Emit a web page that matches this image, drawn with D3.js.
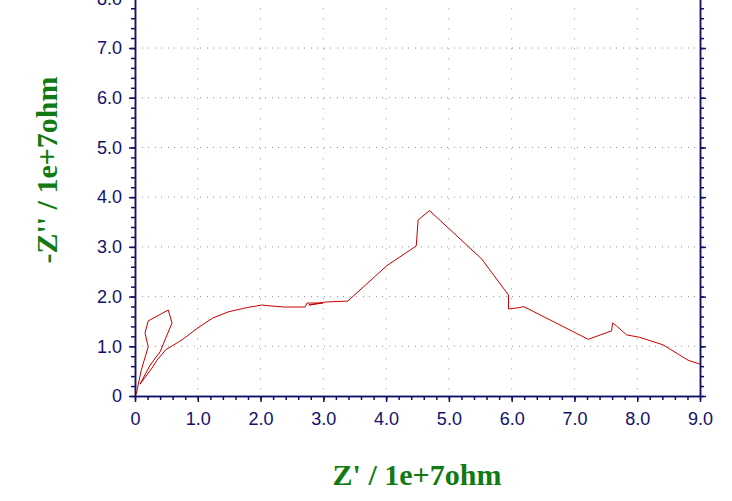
<!DOCTYPE html>
<html>
<head>
<meta charset="utf-8">
<script src="https://cdn.jsdelivr.net/npm/d3@7"></script>
<style>
  html, body { margin: 0; padding: 0; background: #ffffff; }
  svg { display: block; }
</style>
</head>
<body>
<svg id="chart" width="732" height="501"></svg>
<script>
// Z' (real part, 1e7 ohm)
const zReal = [0.02, 0.10, 0.21, 0.16, 0.21, 0.53, 0.59, 0.40, 0.24, 0.08,
  0.27, 0.35, 0.49, 0.75, 1.00, 1.24, 1.48, 1.75, 2.02, 2.18,
  2.37, 2.71, 2.74, 2.99, 2.77, 3.03, 3.39, 4.01, 4.48, 4.51,
  4.69, 4.99, 5.52, 5.95, 5.95, 6.13, 6.19, 7.22, 7.59, 7.61,
  7.67, 7.83, 8.04, 8.41, 8.81, 9.00];
// -Z'' (imaginary part, 1e7 ohm)
const zImag = [0.04, 0.52, 0.99, 1.27, 1.51, 1.73, 1.47, 0.89, 0.62, 0.24,
  0.56, 0.72, 0.93, 1.13, 1.37, 1.57, 1.69, 1.77, 1.83, 1.81,
  1.79, 1.79, 1.87, 1.87, 1.83, 1.89, 1.91, 2.62, 3.02, 3.54,
  3.73, 3.38, 2.76, 2.03, 1.75, 1.78, 1.80, 1.14, 1.31, 1.47,
  1.41, 1.23, 1.18, 1.03, 0.72, 0.64];

const xTickValues = [0, 1, 2, 3, 4, 5, 6, 7, 8, 9];
const yTickValues = [0, 1, 2, 3, 4, 5, 6, 7, 8];
const xTitle = "Z' / 1e+7ohm";
const yTitle = "-Z'' / 1e+7ohm";

const axisColor = "#11116a";
const titleColor = "#127a12";
const lineColor = "#c80000";

const svg = d3.select("#chart");
const left = 135, right = 700, bottom = 396;

const x = d3.scaleLinear().domain([0, 9]).range([left, right]);
const y = d3.scaleLinear().domain([0, 8]).range([bottom, bottom - 8 * 49.71]);

const fmt = d => d === 0 ? "0" : d.toFixed(1);
const minorX = d3.range(0, 9.0001, 0.2);
const minorY = d3.range(0, 8.0001, 0.2);

// grid
const grid = svg.append("g");
grid.selectAll(".gx").data(xTickValues.filter(d => d > 0 && d < 9)).join("line")
  .attr("x1", d => x(d)).attr("x2", d => x(d))
  .attr("y1", y(8)).attr("y2", bottom)
  .attr("stroke", "#909090").attr("stroke-width", 1)
  .attr("stroke-dasharray", "1,9");
grid.selectAll(".gy").data(yTickValues.filter(d => d > 0)).join("line")
  .attr("x1", left).attr("x2", right)
  .attr("y1", d => y(d)).attr("y2", d => y(d))
  .attr("stroke", "#909090").attr("stroke-width", 1)
  .attr("stroke-dasharray", "1,6,1,5");

function styleAxis(g) {
  g.selectAll("path, line").attr("stroke", axisColor).attr("stroke-width", 1.5);
  g.selectAll("text").attr("fill", axisColor)
    .attr("font-family", "'Liberation Sans', Arial, sans-serif")
    .attr("font-size", 18);
}

// minor ticks
svg.append("g").attr("transform", `translate(0,${bottom})`)
  .call(d3.axisBottom(x).tickValues(minorX).tickFormat("").tickSize(4).tickSizeOuter(0))
  .call(styleAxis);
svg.append("g").attr("transform", `translate(${left},0)`)
  .call(d3.axisLeft(y).tickValues(minorY).tickFormat("").tickSize(4).tickSizeOuter(0))
  .call(styleAxis);
svg.append("g").attr("transform", `translate(${right},0)`)
  .call(d3.axisRight(y).tickValues(minorY).tickFormat("").tickSize(4).tickSizeOuter(0))
  .call(styleAxis);

// major ticks
svg.append("g").attr("transform", `translate(0,${bottom})`)
  .call(d3.axisBottom(x).tickValues(xTickValues).tickFormat(fmt).tickSize(6).tickPadding(10).tickSizeOuter(0))
  .call(styleAxis);
svg.append("g").attr("transform", `translate(${left},0)`)
  .call(d3.axisLeft(y).tickValues(yTickValues).tickFormat(fmt).tickSize(6).tickPadding(7).tickSizeOuter(0))
  .call(styleAxis);
svg.append("g").attr("transform", `translate(${right},0)`)
  .call(d3.axisRight(y).tickValues(yTickValues).tickFormat("").tickSize(6).tickSizeOuter(0))
  .call(styleAxis);

// data line
const pts = zReal.map((d, i) => [d, zImag[i]]);
svg.append("path")
  .datum(pts)
  .attr("fill", "none")
  .attr("stroke", lineColor)
  .attr("stroke-width", 1)
  .attr("d", d3.line().x(d => x(d[0])).y(d => y(d[1])));

// titles
svg.append("text")
  .attr("x", 417).attr("y", 485)
  .attr("text-anchor", "middle")
  .attr("font-family", "'Liberation Serif', 'Times New Roman', serif")
  .attr("font-weight", "bold").attr("font-size", 30)
  .attr("fill", titleColor)
  .text(xTitle);
svg.append("text")
  .attr("transform", "translate(57,170) rotate(-90)")
  .attr("text-anchor", "middle")
  .attr("font-family", "'Liberation Serif', 'Times New Roman', serif")
  .attr("font-weight", "bold").attr("font-size", 30)
  .attr("fill", titleColor)
  .text(yTitle);
</script>
</body>
</html>
